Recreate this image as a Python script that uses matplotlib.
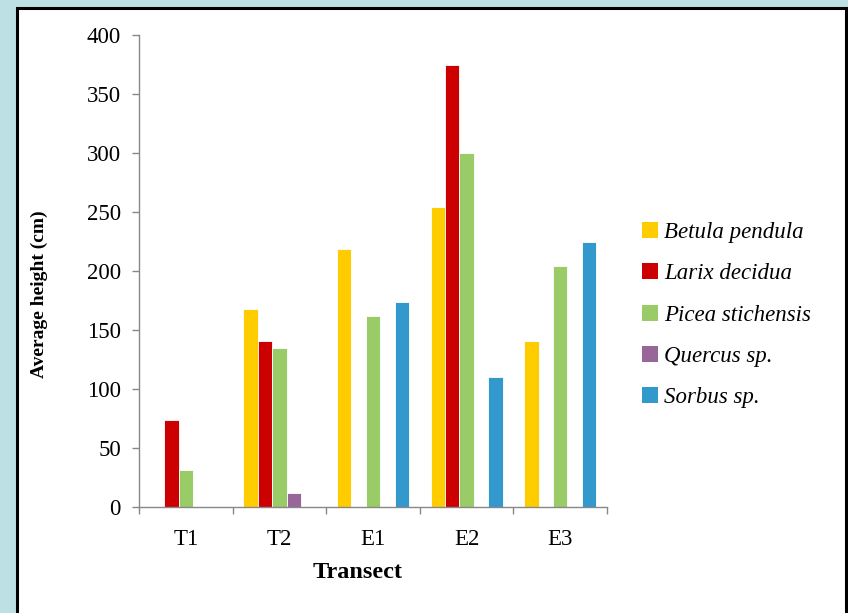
import matplotlib
matplotlib.use("Agg")
import matplotlib.pyplot as plt
from matplotlib.patches import Rectangle, Patch
import numpy as np

categories = ["T1", "T2", "E1", "E2", "E3"]
species = ["Betula pendula", "Larix decidua", "Picea stichensis", "Quercus sp.", "Sorbus sp."]
betula = [0, 168, 219, 254, 141]
larix = [74, 141, 0, 375, 0]
picea = [31, 135, 162, 300, 204]
quercus = [0, 12, 0, 0, 0]
sorbus = [0, 0, 174, 110, 225]
colors = ["#FFCC00", "#CC0000", "#99CC66", "#996699", "#3399CC"]
yticks = [0, 50, 100, 150, 200, 250, 300, 350, 400]

series = [betula, larix, picea, quercus, sorbus]

plt.rcParams['font.family'] = ['Liberation Serif', 'DejaVu Serif']

fig = plt.figure(figsize=(8.48, 6.13), dpi=100)
fig.patch.set_facecolor("#BCE0E4")
# white panel with black border
fig.patches.append(Rectangle((17/848, -0.05), (846-17)/848, 1.05 - 8/613,
                             transform=fig.transFigure, facecolor="white",
                             edgecolor="black", linewidth=2.2, zorder=-5))

ax = fig.add_axes([139/848, 1-507/613, (607-139)/848, (507-35)/613])
ax.set_zorder(2)
ax.set_facecolor("none")

x = np.arange(len(categories))
w = 1/6.5
for i, (vals, c, name) in enumerate(zip(series, colors, species)):
    ax.bar(x + (i-2)*w, vals, width=w, color=c, edgecolor="white", linewidth=0.6, label=name)

ax.set_xlim(-0.5, len(categories)-0.5)
ax.set_ylim(0, 400)
ax.set_yticks(yticks)
ax.set_xticks(x)
ax.set_xticklabels(categories)
ax.set_xticks(np.arange(-0.5, len(categories), 1), minor=True)
ax.tick_params(axis='x', which='major', length=0, pad=16, labelsize=16.5)
ax.tick_params(axis='x', which='minor', length=5, color="#888888", width=1)
ax.tick_params(axis='y', length=5, color="#888888", width=1, labelsize=16.5, pad=8)
for s in ["top", "right"]:
    ax.spines[s].set_visible(False)
for s in ["left", "bottom"]:
    ax.spines[s].set_color("#888888")
    ax.spines[s].set_linewidth(1)

ax.set_xlabel("Transect", fontsize=17.5, fontweight="bold")
ax.xaxis.set_label_coords((358-139)/468, (507-562)/472)
ax.set_ylabel("Average height (cm)", fontsize=14, fontweight="bold")
ax.yaxis.set_label_coords((48-139)/468, (507-294)/472)

handles = [Patch(facecolor=c, edgecolor="none") for c in colors]
leg = fig.legend(handles, species, loc="upper left", bbox_to_anchor=(633/848, 1-213/613),
                 frameon=False, prop={'style': 'italic', 'size': 16.5},
                 handlelength=0.7, handleheight=0.7, handletextpad=0.25,
                 labelspacing=0.88, borderaxespad=0)

fig.savefig("out.png", dpi=100)
